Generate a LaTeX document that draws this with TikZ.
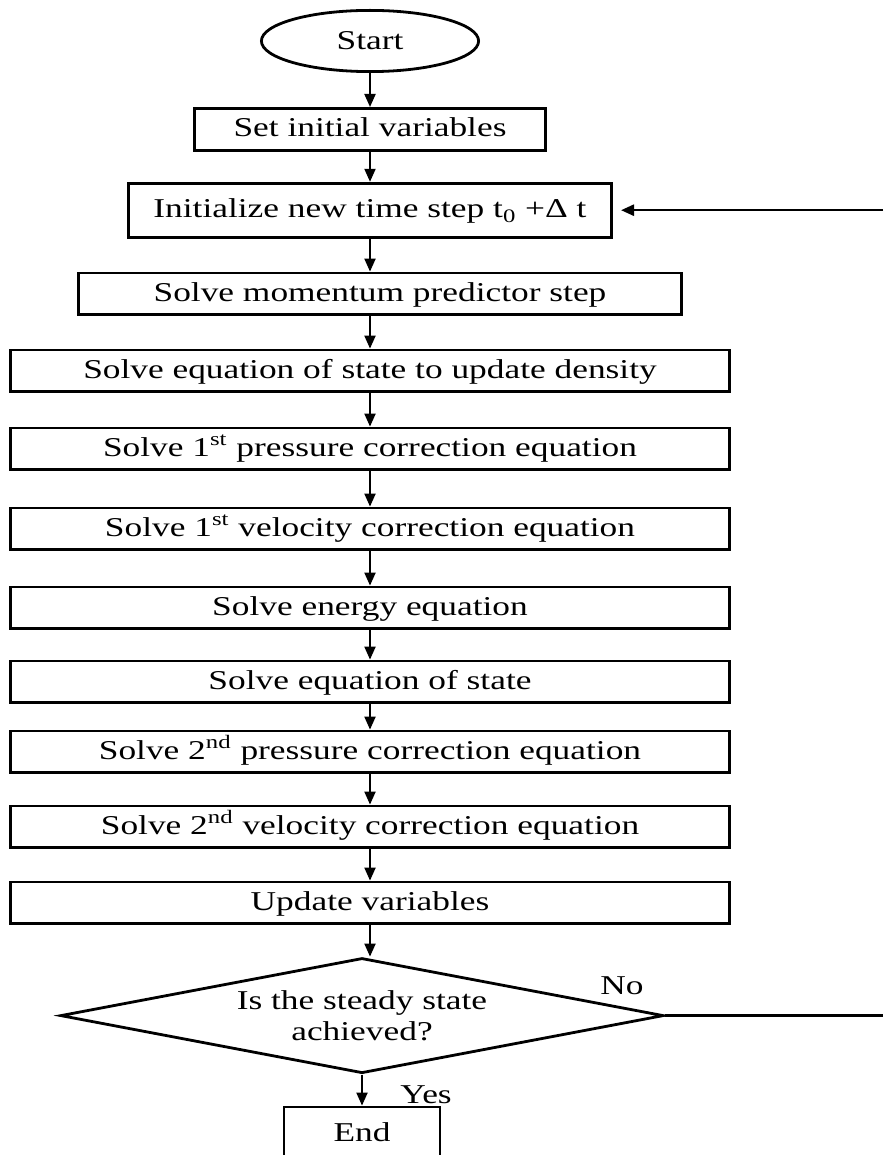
\documentclass[tikz,border=0pt]{standalone}
\usepackage{fontspec}
\setmainfont[FakeStretch=1.3]{Liberation Serif}
\usetikzlibrary{positioning,shapes.geometric,arrows.meta}

\begin{document}
\begin{tikzpicture}[x=0.5pt,y=-0.5pt,
    font=\fontsize{13.6pt}{15.5pt}\selectfont,
    stepbox/.style={rectangle,draw,line width=1.4pt,minimum height=20.6pt,inner sep=0pt,
      text height=9.5pt,text depth=2pt},
    widebox/.style={stepbox,minimum width=359.6pt},
    flow/.style={-{Triangle[width=5.5pt,length=6.5pt]},line width=1pt},
    node distance=16pt]
  \useasboundingbox (0,0) rectangle (883,1155);
  \coordinate (edge) at (883,0);
  \node[ellipse,draw,line width=1.4pt,minimum width=108.6pt,minimum height=30.6pt,inner sep=0pt] (start) at (370,41) {Start};
  \node[stepbox,minimum width=175.6pt,minimum height=21pt,below=17pt of start] (setvar) {Set initial variables};
  \node[stepbox,minimum width=241.6pt,minimum height=27pt,below=15pt of setvar] (newstep) {Initialize new time step t\textsubscript{0} +Δ t};
  \node[stepbox,minimum width=301.6pt,below=16.5pt of newstep,xshift=5pt] (moment) {Solve momentum predictor step};
  \node[widebox,below=16.5pt of moment,xshift=-5pt] (density) {Solve equation of state to update density};
  \node[widebox,below=17pt of density] (press1) {Solve 1\textsuperscript{st} pressure correction equation};
  \node[widebox,below=18pt of press1] (veloc1) {Solve 1\textsuperscript{st} velocity correction equation};
  \node[widebox,below=17.5pt of veloc1] (energy) {Solve energy equation};
  \node[widebox,below=15pt of energy] (state) {Solve equation of state};
  \node[widebox,below=13pt of state] (press2) {Solve 2\textsuperscript{nd} pressure correction equation};
  \node[widebox,below=15.5pt of press2] (veloc2) {Solve 2\textsuperscript{nd} velocity correction equation};
  \node[widebox,below=of veloc2] (update) {Update variables};
  \node[diamond,draw,line width=1.4pt,shape aspect=5.1,inner sep=0pt,minimum width=301.6pt,minimum height=57.6pt,align=center,below=of update,xshift=-4pt] (steady) {Is the steady state\\achieved?};
  \node[stepbox,minimum width=78pt,minimum height=27pt,below=15.5pt of steady] (finish) {End};

  \node (no) at ([shift={(-21.5pt,15pt)}]steady.east) {No};
  \node (yes) at ([shift={(32pt,-10pt)}]steady.south) {Yes};

  \foreach \a/\b in {start/setvar,setvar/newstep,newstep/moment,moment/density,
      density/press1,press1/veloc1,veloc1/energy,energy/state,state/press2,
      press2/veloc2,veloc2/update,update/steady}
    \draw[flow] (\a.south -| start) -- (\b.north -| start);
  \draw[flow] (steady.south) -- (finish.north);

  % loop back to the new time step
  \draw[line width=1.3pt] (steady.east) -- (steady.east -| edge);
  \draw[flow,line width=1.3pt,shorten >=4pt] (newstep.east -| edge) -- (newstep.east);
\end{tikzpicture}
\end{document}
